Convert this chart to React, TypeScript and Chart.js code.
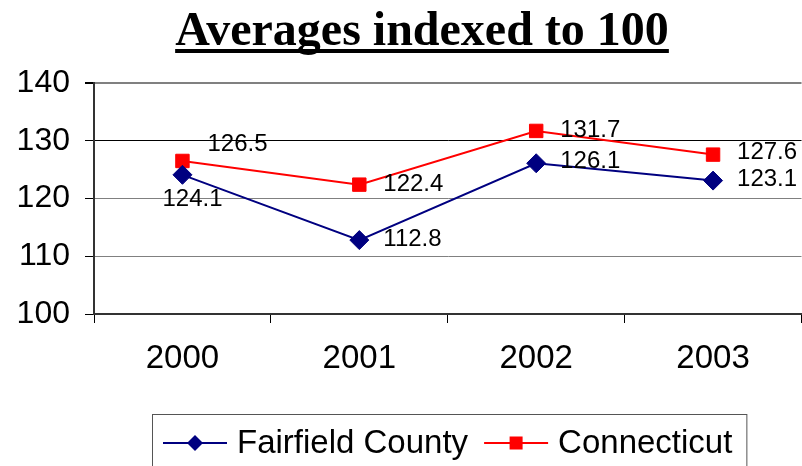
import React, { useEffect, useRef } from 'react';
import { Chart, registerables } from 'chart.js';

Chart.register(...registerables);

const categories = ['2000', '2001', '2002', '2003'];
const fairfield = [124.1, 112.8, 126.1, 123.1];
const connecticut = [126.5, 122.4, 131.7, 127.6];
const seriesNames = ['Fairfield County', 'Connecticut'];
const titleText = 'Averages indexed to 100';
const yMin = 100;
const yMax = 140;
const yStep = 10;

const SANS = '"Liberation Sans", Arial, sans-serif';
const SERIF = '"Liberation Serif", "Times New Roman", serif';
const NAVY = '#000080';
const RED = '#FF0000';

// style: label offsets from each point, per dataset
const labelOffsets = [
  [[-20, 25], [24, -1], [24, -2], [24, -1]],
  [[25, -17], [24, 0], [24, -1], [24, -2]],
];

const decorPlugin = {
  id: 'decor',
  afterDatasetsDraw(chart: any) {
    const ctx = chart.ctx;
    ctx.save();
    ctx.font = `24px ${SANS}`;
    ctx.fillStyle = '#000';
    ctx.textAlign = 'left';
    ctx.textBaseline = 'middle';
    chart.data.datasets.forEach((ds: any, di: number) => {
      const meta = chart.getDatasetMeta(di);
      meta.data.forEach((pt: any, i: number) => {
        const [dx, dy] = labelOffsets[di][i];
        ctx.fillText(Number(ds.data[i]).toFixed(1), pt.x + dx, pt.y + dy);
      });
    });
    ctx.restore();
  },
  afterDraw(chart: any) {
    const ctx = chart.ctx;
    ctx.save();
    // title
    ctx.font = `bold 48px ${SERIF}`;
    ctx.fillStyle = '#000';
    ctx.textAlign = 'center';
    ctx.textBaseline = 'alphabetic';
    const tx = 422;
    ctx.fillText(titleText, tx, 45);
    const tw = ctx.measureText(titleText).width;
    ctx.fillRect(tx - tw / 2, 49, tw, 4);

    // legend
    ctx.font = `33px ${SANS}`;
    ctx.textAlign = 'left';
    const items = [
      { name: seriesNames[0], color: NAVY, shape: 'diamond' },
      { name: seriesNames[1], color: RED, shape: 'square' },
    ];
    const boxLeft = 152;
    const boxTop = 414;
    const lineLen = 64;
    const textGap = 10;
    const itemGap = 16;
    const ly = 443;
    let x = boxLeft + 11;
    items.forEach((it, idx) => {
      ctx.strokeStyle = it.color;
      ctx.lineWidth = 2;
      ctx.beginPath();
      ctx.moveTo(x, ly);
      ctx.lineTo(x + lineLen, ly);
      ctx.stroke();
      const cx = x + lineLen / 2;
      ctx.fillStyle = it.color;
      if (it.shape === 'diamond') {
        const r = 8;
        ctx.beginPath();
        ctx.moveTo(cx, ly - r);
        ctx.lineTo(cx + r, ly);
        ctx.lineTo(cx, ly + r);
        ctx.lineTo(cx - r, ly);
        ctx.closePath();
        ctx.fill();
      } else {
        ctx.fillRect(cx - 6.5, ly - 6.5, 13, 13);
      }
      ctx.fillStyle = '#000';
      const textX = x + lineLen + textGap;
      ctx.fillText(it.name, textX, 453);
      x = textX + ctx.measureText(it.name).width + (idx < items.length - 1 ? itemGap : 0);
    });
    const boxRight = x + 14;
    ctx.strokeStyle = '#555';
    ctx.lineWidth = 1;
    ctx.strokeRect(boxLeft + 0.5, boxTop + 0.5, boxRight - boxLeft, 80);
    ctx.restore();
  },
};

export default function App() {
  const ref = useRef<HTMLCanvasElement | null>(null);
  useEffect(() => {
    if (!ref.current) return;
    const chart = new Chart(ref.current, {
      type: 'line',
      data: {
        labels: categories,
        datasets: [
          {
            label: seriesNames[0],
            data: fairfield,
            borderColor: NAVY,
            backgroundColor: NAVY,
            borderWidth: 2,
            pointStyle: 'rectRot',
            pointRadius: 9.5,
            pointBorderWidth: 1,
            tension: 0,
          },
          {
            label: seriesNames[1],
            data: connecticut,
            borderColor: RED,
            backgroundColor: RED,
            borderWidth: 2,
            pointStyle: 'rect',
            pointRadius: 9.5,
            pointBorderWidth: 1,
            tension: 0,
          },
        ],
      },
      options: {
        responsive: false,
        animation: false,
        devicePixelRatio: 1,
        layout: { padding: { top: 83, left: 0, right: 9, bottom: 0 } },
        plugins: {
          legend: { display: false },
          title: { display: false },
          tooltip: { enabled: false },
        },
        scales: {
          x: {
            type: 'category',
            offset: true,
            afterFit: (s: any) => { s.height = 152; },
            grid: {
              offset: true,
              drawOnChartArea: false,
              drawTicks: true,
              tickLength: 9,
              tickColor: '#000',
            },
            border: { display: true, color: '#333', width: 2 },
            ticks: {
              color: '#000',
              padding: 16,
              font: { family: SANS, size: 33 },
            },
          },
          y: {
            min: yMin,
            max: yMax,
            afterFit: (s: any) => { s.width = 94; },
            grid: {
              color: (c: any) => (c.tick && c.tick.value === 130 ? '#000' : '#808080'),
              lineWidth: (c: any) => (c.tick && c.tick.value === 140 ? 2 : 1),
              tickLength: 9,
              tickColor: '#000',
            },
            border: { display: true, color: '#333', width: 2 },
            ticks: {
              stepSize: yStep,
              color: '#000',
              padding: 15,
              font: { family: SANS, size: 32 },
            },
          },
        },
      },
      plugins: [decorPlugin],
    });
    return () => chart.destroy();
  }, []);
  return (
    <div
      style={{
        position: 'fixed',
        left: 0,
        top: 0,
        width: 802,
        height: 466,
        overflow: 'hidden',
        background: '#fff',
      }}
    >
      <canvas ref={ref} width={812} height={466} style={{ display: 'block' }} />
    </div>
  );
}
